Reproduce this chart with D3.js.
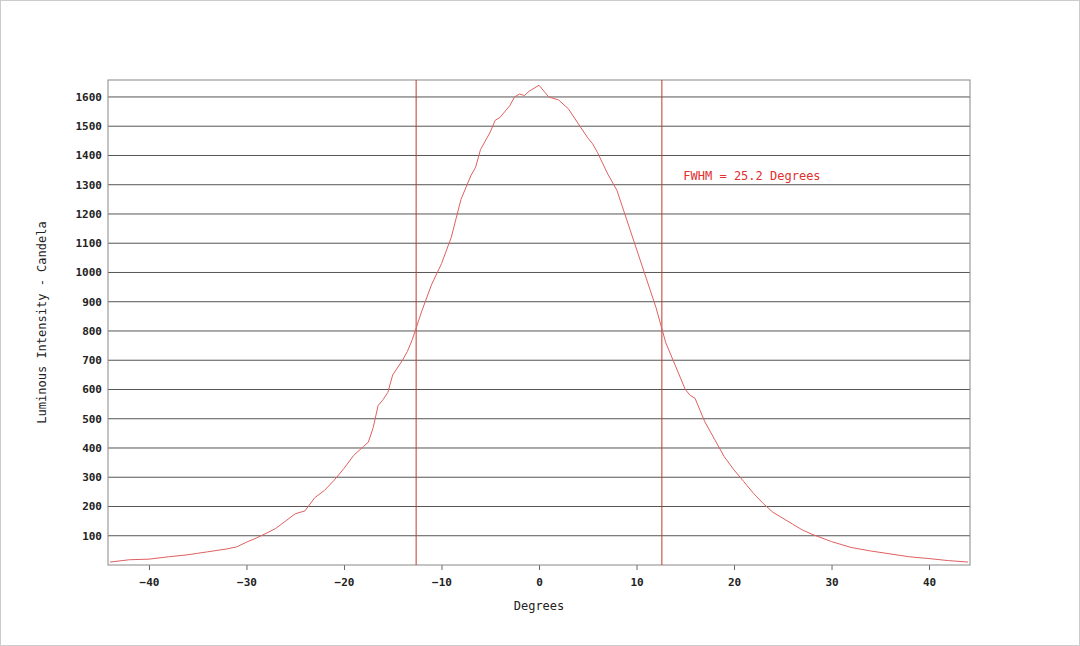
<!DOCTYPE html>
<html><head><meta charset="utf-8">
<script src="https://cdn.jsdelivr.net/npm/d3@7"></script>
<style>body{margin:0;background:#fff}text{font-family:"DejaVu Sans Mono",monospace;font-size:11px;fill:#222}</style>
</head><body><div id="vis"></div>
<script>
// angle in degrees and measured intensity (cd)
const angles = [-44,-42,-40,-38,-36,-35,-34,-32,-31,-30,-29,-28,-27,-26,-25,-24,-23,-22,-21,-20,-19,-18,-17.5,-17,-16.5,-16,-15.5,-15,-14,-13.5,-13,-12,-11,-10,-9,-8,-7,-6.5,-6,-5,-4.5,-4,-3,-2.5,-2,-1.5,-1,0,0.5,1,2,3,4,5,5.5,6,7,8,9,10,11,12,13,14,15,15.5,16,17,18,19,20,21,22,23,24,25,26,27,28,30,32,34,36,38,40,42,44];
const intensity = [10,18,20,28,35,40,45,55,62,78,92,108,125,150,175,185,230,255,290,330,375,405,420,470,545,565,590,650,700,730,770,870,960,1030,1120,1250,1330,1360,1420,1480,1520,1530,1570,1600,1610,1605,1620,1640,1620,1600,1590,1560,1510,1460,1440,1410,1340,1280,1180,1080,980,880,760,680,600,580,570,490,430,370,325,285,245,210,180,160,140,120,105,80,60,48,38,28,22,15,10];
const xTicks = [-40,-30,-20,-10,0,10,20,30,40];
const yTicks = [100,200,300,400,500,600,700,800,900,1000,1100,1200,1300,1400,1500,1600];
const fwhmLines = [-12.6, 12.6];
const fwhmLabel = "FWHM = 25.2 Degrees";

const W = 1080, H = 646;
const margin = {left: 108, right: 110, top: 80, bottom: 81};
const width = W - margin.left - margin.right, height = H - margin.top - margin.bottom;

const svg = d3.select("#vis").append("svg").attr("width", W).attr("height", H);
svg.append("rect").attr("x", 0.5).attr("y", 0.5).attr("width", W - 1).attr("height", H - 1)
  .attr("fill", "none").attr("stroke", "#ccc");
const g = svg.append("g").attr("transform", `translate(${margin.left},${margin.top})`);

let x = d3.scaleLinear().domain([-44.2, 44.2]).range([0, width]);
let y = d3.scaleLinear().domain([0, 1658]).range([height, 0]);

// grid
g.selectAll(".grid").data(yTicks).join("line")
  .attr("x1", 0).attr("x2", width)
  .attr("y1", d => y(d)).attr("y2", d => y(d))
  .attr("stroke", "#555").attr("stroke-width", 1);

g.selectAll(".ylab").data(yTicks).join("text")
  .attr("x", -6).attr("y", d => y(d)).attr("dy", "0.35em")
  .attr("text-anchor", "end").style("font-weight", "bold").text(d => d);

// x axis
let xAxis = g.append("g").attr("transform", `translate(0,${height})`)
  .call(d3.axisBottom(x).tickValues(xTicks).tickSize(5).tickPadding(8));
xAxis.select(".domain").remove();
xAxis.selectAll("line").attr("stroke", "#666");
xAxis.selectAll("text").style("font-family", '"DejaVu Sans Mono",monospace').style("font-size", "11px")
  .style("font-weight", "bold").attr("fill", "#222");

// frame
g.append("rect").attr("width", width).attr("height", height)
  .attr("fill", "none").attr("stroke", "#888");

// fwhm lines
g.selectAll(".fw").data(fwhmLines).join("line")
  .attr("x1", d => x(d)).attr("x2", d => x(d)).attr("y1", 0).attr("y2", height)
  .attr("stroke", "#c0392b").attr("stroke-width", 1);

const data = angles.map((a, i) => ({a: a, v: intensity[i]}));
g.append("path").datum(data)
  .attr("d", d3.line().x(d => x(d.a)).y(d => y(d.v)))
  .attr("fill", "none").attr("stroke", "#e06060").attr("stroke-width", 1);

g.append("text").attr("x", x(14.8)).attr("y", y(1330)).attr("dy", "0.35em")
  .style("fill", "#e03030").style("font-size", "12px").text(fwhmLabel);

// axis labels
g.append("text").attr("x", x(0)).attr("y", height + 45).attr("text-anchor", "middle").style("font-size", "12px").text("Degrees");
g.append("text").attr("transform", `translate(-62,${height / 2}) rotate(-90)`)
  .attr("text-anchor", "middle").style("font-size", "12px").text("Luminous Intensity - Candela");
</script></body></html>
